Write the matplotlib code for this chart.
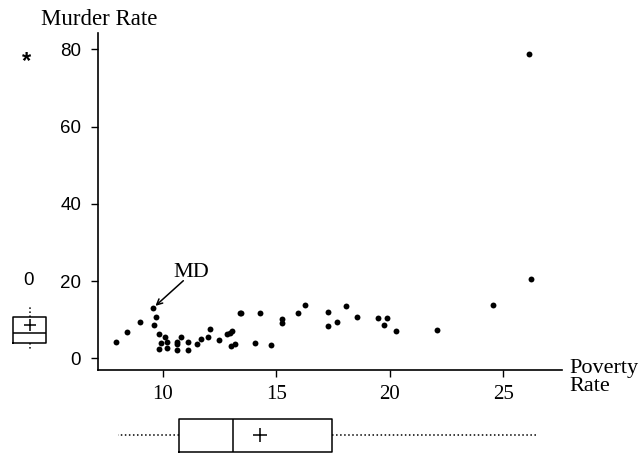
import matplotlib.pyplot as plt

# poverty rate (x) and murder rate (y)
poverty = [7.94, 8.41, 9.01, 9.59, 9.69, 9.60, 9.82, 9.93, 9.82, 10.11,
           10.20, 10.20, 10.62, 10.62, 10.62, 10.82, 11.10, 11.10, 11.50, 11.69,
           11.98, 12.07, 12.48, 12.85, 12.96, 13.07, 13.00, 13.19, 13.41, 13.46,
           14.27, 14.08, 14.78, 15.27, 15.27, 15.97, 16.27, 17.28, 17.28, 17.68,
           18.06, 18.56, 19.47, 19.87, 19.76, 20.28, 22.07, 24.55, 26.24, 26.14]
murder = [4.2, 6.7, 9.4, 13.1, 10.8, 8.6, 6.3, 4.0, 2.3, 5.4,
          4.3, 2.6, 4.3, 3.7, 2.1, 5.6, 4.3, 2.1, 3.6, 4.9,
          5.5, 7.7, 4.7, 6.3, 6.6, 7.1, 3.3, 3.7, 11.8, 11.8,
          11.7, 3.9, 3.4, 10.2, 9.1, 11.7, 13.7, 12.1, 8.4, 9.4,
          13.5, 10.7, 10.5, 10.5, 8.7, 7.0, 7.3, 13.8, 20.5, 78.8]

md_point = (9.59, 13.1)
md_label = (11.28, 21.1)
md_arrow_tail = (10.91, 20.1)

# marginal box plot summaries
murder_box = dict(q1=3.9, med=6.6, q3=10.8, mean=8.6, whislo=2.15, whishi=13.8, fliers=[])
poverty_box = dict(q1=10.73, med=13.11, q3=17.44, mean=14.29, whislo=8.04, whishi=26.48, fliers=[])
murder_outliers = [(20.1, '0'), (78.8, '*')]

xticks = [10, 15, 20, 25]
yticks = [0, 20, 40, 60, 80]

W, H = 642, 453
fig = plt.figure(figsize=(W / 100, H / 100), dpi=100)

serif = 'Liberation Serif'
sans = 'Liberation Sans'

ax = fig.add_axes([97.7 / W, 83 / H, (561.7 - 97.7) / W, (370 - 33) / H])
ax.scatter(poverty, murder, s=18, c='black', linewidths=0)
ax.set_xlim(7.137, 27.58)
ax.set_ylim(-3.03, 84.27)
for s in ['top', 'right']:
    ax.spines[s].set_visible(False)
for s in ['left', 'bottom']:
    ax.spines[s].set_linewidth(1.2)
ax.set_xticks(xticks)
ax.set_yticks(yticks)
ax.tick_params(axis='both', direction='out', length=5, width=1)
ax.tick_params(axis='y', pad=7)
ax.tick_params(axis='x', pad=6)
for lab in ax.get_yticklabels():
    lab.set_fontfamily(sans)
    lab.set_fontsize(13.5)
for lab in ax.get_xticklabels():
    lab.set_fontfamily(serif)
    lab.set_fontsize(15)

ax.text(md_label[0], md_label[1], 'MD', fontfamily=serif, fontsize=16,
        ha='center', va='baseline')
ax.annotate('', xy=md_point, xytext=md_arrow_tail,
            arrowprops=dict(arrowstyle='->', color='black', lw=1.1, shrinkA=0, shrinkB=2))

fig.text(40.7 / W, 1 - 25 / H, 'Murder Rate', fontfamily=serif, fontsize=16.5,
         ha='left', va='baseline')
fig.text(569 / W, 1 - 373 / H, 'Poverty', fontfamily=serif, fontsize=16,
         ha='left', va='baseline')
fig.text(569 / W, 1 - 391 / H, 'Rate', fontfamily=serif, fontsize=16,
         ha='left', va='baseline')

boxprops = dict(color='black', linewidth=1.1)
whiskerprops = dict(color='black', linewidth=1.1, linestyle=':')
medianprops = dict(color='black', linewidth=1.1)

# left marginal box (murder rate)
axl = fig.add_axes([0, 83 / H, 60 / W, (370 - 33) / H], sharey=ax)
axl.bxp([murder_box], positions=[0], widths=1, showmeans=True, showcaps=False,
        boxprops=boxprops, whiskerprops=whiskerprops, medianprops=medianprops,
        meanprops=dict(marker='+', markersize=8, markeredgecolor='black', markeredgewidth=1.1))
for val, sym in murder_outliers:
    if sym == '*':
        axl.annotate(sym, (-0.08, val), xytext=(0, -7), textcoords='offset pixels',
                     fontfamily=sans, fontsize=17, fontweight='bold',
                     ha='center', va='center')
    else:
        axl.text(-0.02, val, sym, fontfamily=sans, fontsize=13.5, ha='center', va='center')
axl.set_xlim(-29.5 / 33, (60 - 29.5) / 33)
axl.set_ylim(-3.03, 84.27)
axl.axis('off')

# bottom marginal box (poverty rate)
axb = fig.add_axes([97.7 / W, 0, (561.7 - 97.7) / W, 53 / H], sharex=ax)
axb.bxp([poverty_box], positions=[0], widths=1, orientation='horizontal',
        showmeans=True, showcaps=False,
        boxprops=boxprops, whiskerprops=whiskerprops, medianprops=medianprops,
        meanprops=dict(marker='+', markersize=10, markeredgecolor='black', markeredgewidth=1.1))
axb.set_ylim(-18 / 33, 35 / 33)
axb.set_xlim(7.137, 27.58)
axb.axis('off')

fig.savefig('out.png', dpi=100)
